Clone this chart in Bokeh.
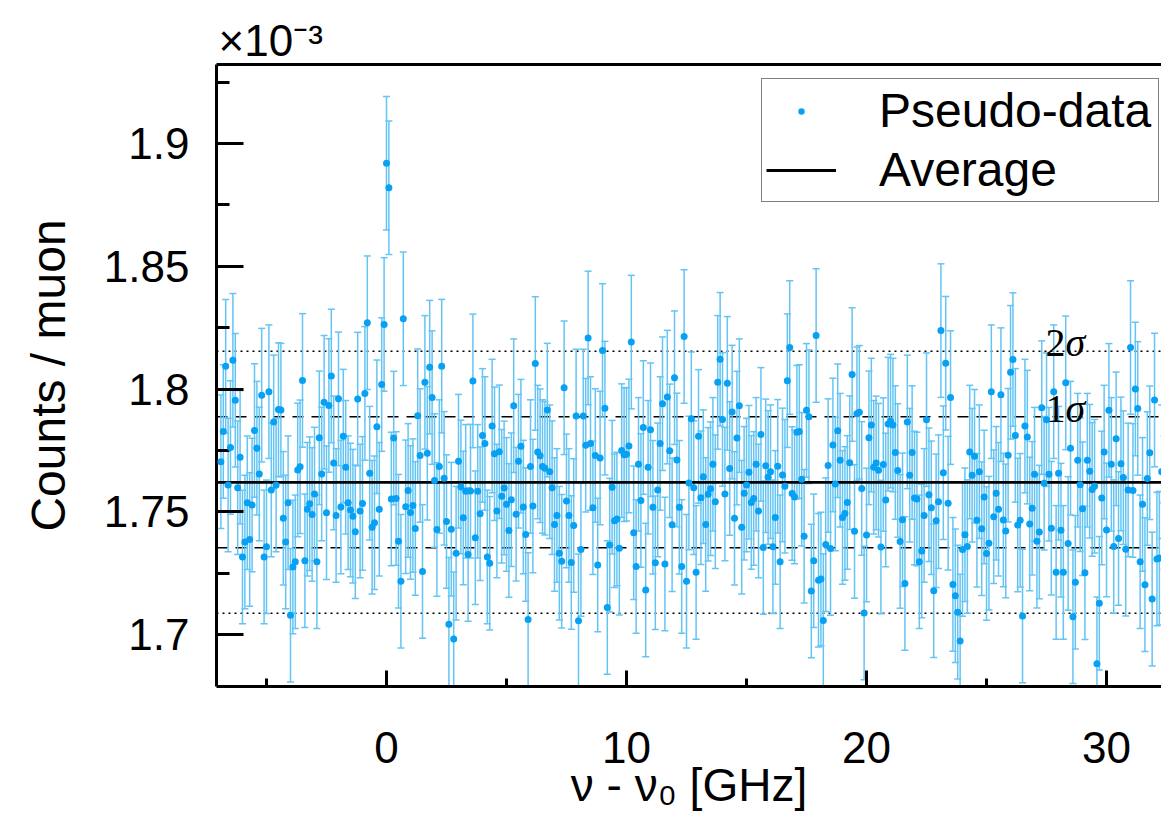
import numpy as np
from bokeh.plotting import figure
from bokeh.models import (ColumnDataSource, Whisker, TeeHead, Span, Label, Legend,
                          LegendItem, FixedTicker, LinearAxis)
from bokeh.embed import file_html
from bokeh.resources import INLINE

# ---------------- data (counts per muon, in units of 1e-3) ----------------
freq_start = -6.9      # GHz, first scan point
freq_step = 0.1        # GHz, scan step

counts_per_muon = [
    # -6.9 .. -0.4 GHz
    1.7704, 1.7827, 1.8093, 1.7609, 1.7762, 1.8117, 1.7954, 1.7598, 1.7722, 1.7316,
    1.7377, 1.7537, 1.7387, 1.7527, 1.7831, 1.7759, 1.7654, 1.7975, 1.7316, 1.7357,
    1.7989, 1.7589, 1.7866, 1.7609, 1.7916, 1.7914, 1.7473, 1.7377, 1.7537, 1.7078,
    1.7275, 1.7296, 1.7670, 1.7683, 1.8035, 1.7300, 1.7510, 1.7533, 1.7489, 1.7572,
    1.7296, 1.7801, 1.7654, 1.7946, 1.7496, 1.7933, 1.8053, 1.7699, 1.7485, 1.7960,
    1.7519, 1.7808, 1.7681, 1.7537, 1.7507, 1.7482, 1.7418, 1.7959, 1.7503, 1.7534,
    1.7982, 1.8270, 1.7657, 1.7437, 1.7455, 1.7846,
    # -0.3 .. 6.2 GHz
    1.7510, 1.8018, 1.8263, 1.8920, 1.8820, 1.7552, 1.7800, 1.7554, 1.7380, 1.7217,
    1.8286, 1.7520, 1.7587, 1.7497, 1.7525, 1.7432, 1.7891, 1.7729, 1.7257, 1.8027,
    1.7738, 1.8089, 1.7965, 1.7627, 1.7428, 1.7684, 1.8093, 1.7636, 1.7460, 1.7042,
    1.7429, 1.6982, 1.7331, 1.7706, 1.7601, 1.7475, 1.7583, 1.7326, 1.7584, 1.8033,
    1.7394, 1.7583, 1.7492, 1.7811, 1.7778, 1.7316, 1.7290, 1.7849, 1.7736, 1.7503,
    1.7744, 1.7563, 1.7597, 1.7530, 1.7424, 1.7549, 1.7932, 1.7490, 1.7706, 1.7767,
    1.7519, 1.7407, 1.7061, 1.7684, 1.7523, 1.8104,
    # 6.3 .. 12.7 GHz
    1.7743, 1.7728, 1.7684, 1.7677, 1.7914, 1.7663, 1.7598, 1.7448, 1.7485, 1.7331,
    1.7298, 1.8005, 1.7544, 1.7485, 1.7293, 1.7444, 1.7890, 1.7056, 1.7346, 1.7890,
    1.7771, 1.8208, 1.7778, 1.7516, 1.7729, 1.7283, 1.7719, 1.8157, 1.7922, 1.7110,
    1.7364, 1.7600, 1.7463, 1.7470, 1.7351, 1.7749, 1.7732, 1.7734, 1.7768, 1.8191,
    1.7414, 1.7277, 1.7693, 1.7546, 1.7843, 1.7181, 1.7681, 1.7834, 1.7518, 1.7292,
    1.7589, 1.7778, 1.7940, 1.7287, 1.7967, 1.7748, 1.7447, 1.8046, 1.7711, 1.7518,
    1.7277, 1.8214, 1.7217, 1.7617, 1.7879,
    # 12.8 .. 19.3 GHz
    1.7598, 1.7253, 1.7807, 1.7557, 1.7643, 1.7448, 1.7571, 1.7594, 1.7693, 1.7541,
    1.8027, 1.8121, 1.7876, 1.7572, 1.8023, 1.7676, 1.7906, 1.7473, 1.7800, 1.7932,
    1.7437, 1.7575, 1.7609, 1.7661, 1.7538, 1.7554, 1.7693, 1.7503, 1.7815, 1.7354,
    1.7687, 1.7640, 1.7663, 1.7357, 1.7477, 1.7685, 1.7296, 1.7650, 1.7604, 1.8034,
    1.8169, 1.7574, 1.7560, 1.7824, 1.7827, 1.7632, 1.7400, 1.7913, 1.7887, 1.7177,
    1.7300, 1.8218, 1.7221, 1.7226, 1.7057, 1.7366, 1.7688, 1.7350, 1.7772, 1.7613,
    1.7830, 1.7710, 1.7477, 1.7493, 1.7538, 1.7700,
    # 19.4 .. 25.9 GHz
    1.8059, 1.7420, 1.7899, 1.7905, 1.7595, 1.7087, 1.7405, 1.7801, 1.7853, 1.7681,
    1.7699, 1.7669, 1.7356, 1.7692, 1.7548, 1.7857, 1.7869, 1.7853, 1.7741, 1.7668,
    1.7379, 1.7467, 1.7208, 1.7866, 1.7649, 1.7741, 1.7556, 1.7552, 1.7296, 1.7340,
    1.7485, 1.7875, 1.7569, 1.7516, 1.7178, 1.7463, 1.7541, 1.8238, 1.7659, 1.8105,
    1.7535, 1.7965, 1.7204, 1.7158, 1.7091, 1.6973, 1.7346, 1.7406, 1.7358, 1.7743,
    1.7649, 1.7726, 1.7465, 1.7663, 1.7431, 1.7560, 1.7330, 1.7372, 1.7989, 1.7480,
    1.7575, 1.7510, 1.7977, 1.7466, 1.7422, 1.7730,
    # 26.0 .. 32.5 GHz
    1.8068, 1.8120, 1.7811, 1.7446, 1.7465, 1.7075, 1.7849, 1.7804, 1.7450, 1.7514,
    1.7653, 1.7380, 1.7417, 1.7924, 1.7616, 1.7875, 1.7653, 1.7433, 1.7989, 1.7253,
    1.7657, 1.7425, 1.7253, 1.8025, 1.7371, 1.7759, 1.7072, 1.7213, 1.7710, 1.7610,
    1.7512, 1.7251, 1.7710, 1.7665, 1.7591, 1.7604, 1.6881, 1.7127, 1.7556, 1.7743,
    1.7426, 1.7913, 1.7693, 1.7358, 1.7797, 1.7391, 1.7695, 1.7639, 1.7347, 1.7589,
    1.8169, 1.7587, 1.8000, 1.7921, 1.7296, 1.7530, 1.7203, 1.7635, 1.7740, 1.7144,
    1.7955, 1.7307, 1.7311, 1.7663, 1.7537, 1.7721,
]
error_half = 0.0272     # half length of the error bars
average = 1.762         # average line
sigma = 0.0267          # 1 sigma band half-width

x_ticks = [0, 10, 20, 30]
x_tick_labels = ["0", "10", "20", "30"]
x_minor_ticks = [-5, 5, 15, 25]
y_ticks = [1.7, 1.75, 1.8, 1.85, 1.9]
y_tick_labels = ["1.7", "1.75", "1.8", "1.85", "1.9"]
y_minor_ticks = [1.675, 1.725, 1.775, 1.825, 1.875, 1.925]

# ---------------- styling ----------------
DOT = "#08a0f2"
BAR = "#64c4f4"
SANS = "Liberation Sans"
SERIF = "Liberation Serif"
FS = "44px"

y = np.array(counts_per_muon)
nu = np.round(freq_start + freq_step * np.arange(len(y)), 2)
src = ColumnDataSource(dict(x=nu, y=y, lo=y - error_half, hi=y + error_half))

x_lo, x_hi = -7.083, 32.29
p = figure(width=1161, height=813, x_range=(x_lo, x_hi), y_range=(1.6788, 1.9322),
           output_backend="svg", toolbar_location=None,
           min_border_left=216, min_border_top=64, min_border_right=0, min_border_bottom=127)
p.outline_line_color = None
p.grid.visible = False
p.background_fill_color = "white"

# exponent of the y axis, shown as a left-aligned title
p.title.text = "×10⁻³"
p.title.align = "left"
p.title.text_font = SANS
p.title.text_font_size = "44px"
p.title.text_font_style = "normal"
p.title.text_color = "black"
p.title.standoff = 0
p.title.offset = 2

# sigma lines
for k, dash in [(1, "11 8"), (2, "2 4")]:
    for s in (+1, -1):
        p.add_layout(Span(location=average + s * k * sigma, dimension="width",
                          line_color="black", line_dash=dash, line_width=1.5, level="underlay"))

# error bars
wh = Whisker(source=src, base="x", upper="hi", lower="lo", line_color=BAR, line_width=1.5,
             upper_head=TeeHead(size=7, line_color=BAR, line_width=1.5),
             lower_head=TeeHead(size=7, line_color=BAR, line_width=1.5), level="underlay")
p.add_layout(wh)

avg = p.line(x=[x_lo, x_hi], y=[average, average], line_color="black", line_width=2.8)
dots = p.scatter("x", "y", source=src, size=7, fill_color=DOT, line_color=None)
dots.level = "overlay"

# axes
xt = FixedTicker(ticks=x_ticks, minor_ticks=x_minor_ticks)
yt = FixedTicker(ticks=y_ticks, minor_ticks=y_minor_ticks)
ax = p.xaxis[0]
ax.ticker = xt
ax.major_label_overrides = {t: l for t, l in zip(x_ticks, x_tick_labels)}
ay = p.yaxis[0]
ay.ticker = yt
ay.major_label_overrides = {t: l for t, l in zip(y_ticks, y_tick_labels)}

for a in (ax, ay):
    a.axis_line_width = 3
    a.major_tick_line_width = 3
    a.minor_tick_line_width = 3
    a.major_tick_out = 0
    a.minor_tick_out = 0
    a.major_label_text_font = SANS
    a.major_label_text_font_size = FS
    a.major_label_text_color = "black"
    a.axis_label_text_font = SANS
    a.axis_label_text_font_style = "normal"
    a.axis_label_text_color = "black"
ax.major_tick_in = 16
ax.minor_tick_in = 8
ax.major_label_standoff = 45
ax.axis_label = "ν - ν₀ [GHz]"
ax.axis_label_text_font_size = "46px"
ax.axis_label_standoff = -7
ay.major_tick_in = 27
ay.minor_tick_in = 13
ay.major_label_standoff = 27
ay.axis_label = "Counts / muon"
ay.axis_label_text_font_size = "48px"
ay.axis_label_standoff = 26

# top border (no ticks, no labels)
top = LinearAxis(ticker=FixedTicker(ticks=[], minor_ticks=[]), axis_line_width=3,
                 major_tick_line_color=None, minor_tick_line_color=None,
                 major_label_standoff=0)
p.add_layout(top, "above")

# sigma labels
for txt_n, yy in [("2", 344), ("1", 278)]:
    p.add_layout(Label(x=829, y=yy, x_units="screen", y_units="screen", text=txt_n,
                       text_font=SERIF, text_font_size="40px", text_baseline="alphabetic",
                       text_color="black"))
    p.add_layout(Label(x=849, y=yy, x_units="screen", y_units="screen", text="σ",
                       text_font=SERIF, text_font_size="40px", text_baseline="alphabetic",
                       text_font_style="italic", text_color="black"))

legend = Legend(items=[LegendItem(label="Pseudo-data", renderers=[dots]),
                       LegendItem(label="Average", renderers=[avg])],
                location=(545, 484), label_text_font=SANS, label_text_font_size="48px",
                label_text_color="black",
                glyph_width=70, glyph_height=16, label_height=48, label_width=275,
                label_standoff=43, padding=4, spacing=4, margin=0,
                border_line_color="black", border_line_width=1.5,
                background_fill_color="white", background_fill_alpha=1)
p.add_layout(legend, "center")

open("out.html", "w").write(file_html(p, INLINE))
